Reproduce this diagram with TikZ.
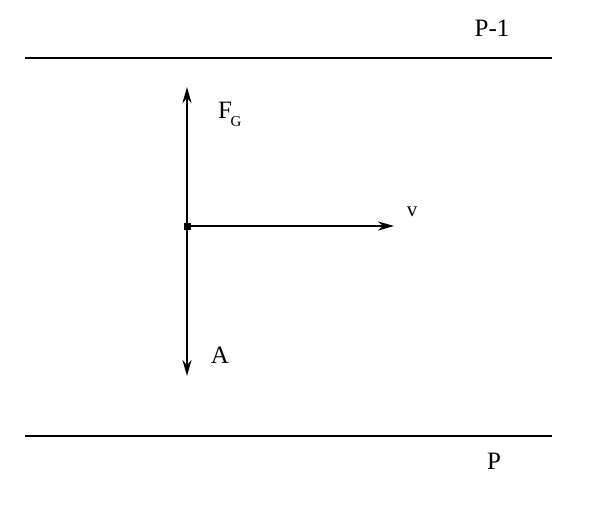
\documentclass[tikz,border=0pt]{standalone}
\usepackage{fontspec}
\setmainfont{Liberation Serif}
\usetikzlibrary{arrows.meta}
\begin{document}
\begin{tikzpicture}[x=1pt,y=-1pt,
  rail/.style={line width=1.6pt},
  vec/.style={line width=2.2pt,-{Stealth[length=16pt,width=9pt,inset=5pt]}},
  lbl/.style={font=\fontsize{25}{27}\selectfont,inner sep=0pt}]
\useasboundingbox[fill=white] (0,0) rectangle (605,532);
\coordinate (l1) at (25,58); \coordinate (r1) at (552,58);
\coordinate (l2) at (25,436); \coordinate (r2) at (552,436);
\draw[rail] (l1) -- (r1);
\draw[rail] (l2) -- (r2);
\node[fill=black,minimum size=7pt,inner sep=0pt] (o) at (187,226) {};
\coordinate (up) at (187,87);
\coordinate (dn) at (187,376);
\coordinate (rt) at (394,226);
\draw[vec] (o.center) -- (up);
\draw[vec] (o.center) -- (dn);
\draw[vec] (o.center) -- (rt);
\node[lbl] (p1) at (492,28) {P-1};
\node[lbl] (p) at (494,461) {P};
\node[lbl] (a) at (220,355) {A};
\node[lbl] (f) at (225,110) {F};
\node[inner sep=0pt,font=\fontsize{15}{16}\selectfont] (g) at (236,122) {G};
\node[lbl,font=\fontsize{21}{23}\selectfont] (v) at (412,212) {v};
\end{tikzpicture}
\end{document}
